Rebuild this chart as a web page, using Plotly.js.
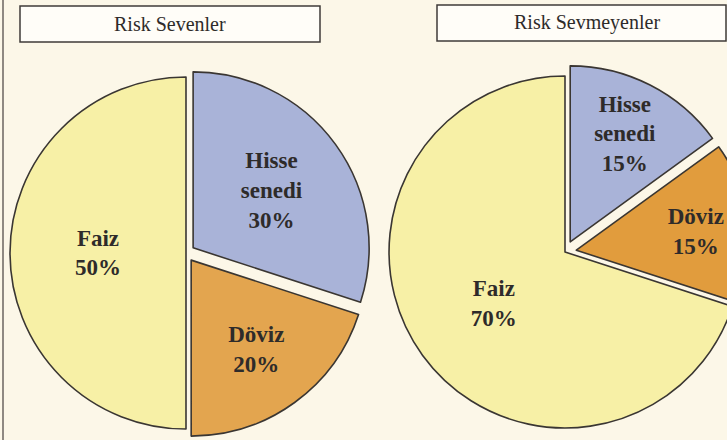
<!DOCTYPE html>
<html>
<head>
<meta charset="utf-8">
<script src="https://cdn.plot.ly/plotly-3.0.1.min.js"></script>
<style>
html,body{margin:0;padding:0;overflow:hidden;background:#fcf7e8;}
#chart{width:800px;height:440px;}
</style>
</head>
<body>
<div id="chart"></div>
<script>
// ---- data ----
const titles = ['Risk Sevenler', 'Risk Sevmeyenler'];
const categories = ['Hisse senedi', 'Döviz', 'Faiz'];
const categoryText = ['Hisse<br>senedi', 'Döviz', 'Faiz'];
const riskSevenler = [30, 20, 50];
const riskSevmeyenler = [15, 15, 70];

// ---- layout helpers ----
const W = 800, H = 440;
const px = x => x / W;
const py = y => 1 - y / H;

const colorsLeft = ['#a9b3d8', '#e3a54f', '#f7f0a6'];
const colorsRight = ['#a9b3d8', '#e19c3d', '#f7f0a6'];
const serif = 'Liberation Serif, Times New Roman, serif';

function pie(values, colors, pull, dom) {
  return {
    type: 'pie',
    labels: categories,
    values: values,
    text: categoryText,
    texttemplate: '%{text}<br>%{percent:.0%}',
    textinfo: 'text',
    textposition: 'inside',
    insidetextorientation: 'horizontal',
    sort: false,
    direction: 'clockwise',
    rotation: 0,
    pull: pull,
    marker: {colors: colors, line: {color: '#3a3632', width: 1.6}},
    textfont: {family: serif, size: 23, color: '#2e2b2a', weight: 'bold'},
    domain: dom,
    showlegend: false,
    hoverinfo: 'none'
  };
}

const data = [
  pie(riskSevenler, colorsLeft, [0.05, 0.05, 0], {x: [px(1.2), px(370.8)], y: [py(437.8), py(68.2)]}),
  pie(riskSevmeyenler, colorsRight, [0.065, 0.065, 0], {x: [px(377.6), px(752.4)], y: [py(439.4), py(64.6)]})
];

const layout = {
  width: W, height: H,
  margin: {l: 0, r: 0, t: 0, b: 0},
  paper_bgcolor: '#fcf7e8',
  plot_bgcolor: '#fcf7e8',
  showlegend: false,
  shapes: [
    {type: 'line', xref: 'paper', yref: 'paper', x0: px(3), x1: px(3), y0: 0, y1: 1, line: {color: '#6b6560', width: 1.5}},
    {type: 'rect', xref: 'paper', yref: 'paper', x0: px(20), x1: px(320), y0: py(42), y1: py(6), fillcolor: '#fffdf8', line: {color: '#3f3b38', width: 1.5}},
    {type: 'rect', xref: 'paper', yref: 'paper', x0: px(437), x1: px(726), y0: py(41), y1: py(5), fillcolor: '#fffdf8', line: {color: '#3f3b38', width: 1.5}}
  ],
  annotations: [
    {xref: 'paper', yref: 'paper', x: px(170), y: py(24), text: titles[0], showarrow: false, xanchor: 'center', yanchor: 'middle', font: {family: serif, size: 20, color: '#2e2b2a'}},
    {xref: 'paper', yref: 'paper', x: px(587), y: py(23), text: titles[1], showarrow: false, xanchor: 'center', yanchor: 'middle', font: {family: serif, size: 20, color: '#2e2b2a'}}
  ]
};

Plotly.newPlot('chart', data, layout, {displayModeBar: false, staticPlot: true});
</script>
</body>
</html>
